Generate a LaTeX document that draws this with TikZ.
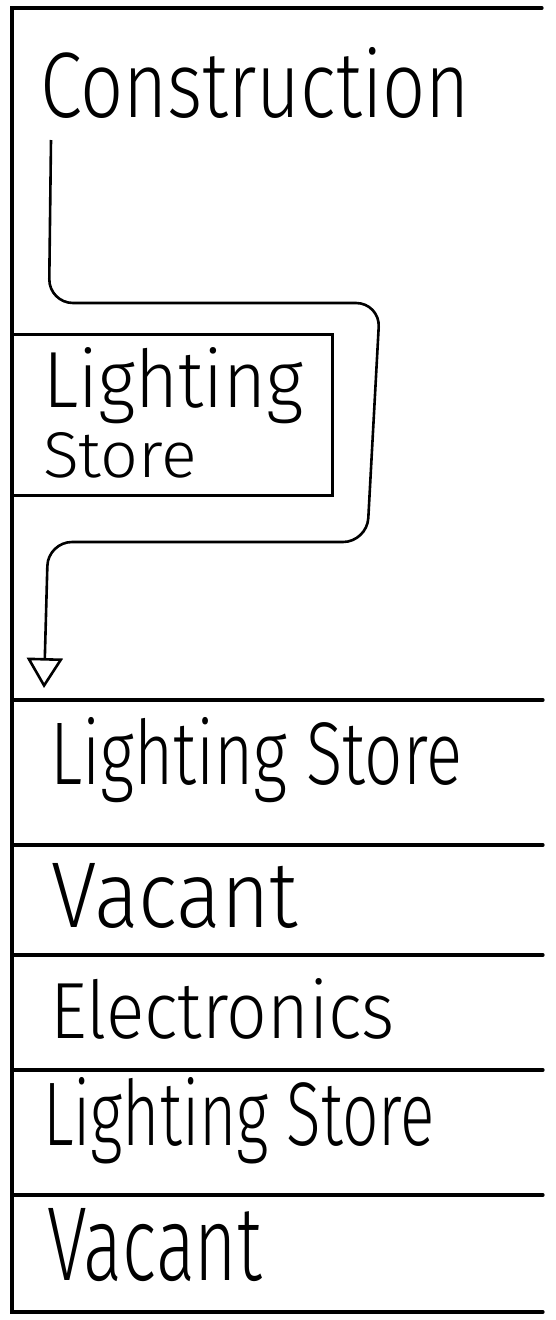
\documentclass[tikz,border=0pt]{standalone}
\usepackage{fontspec}
\usepackage{graphicx}
\newfontfamily\handfont{Fira Sans Light}
\usetikzlibrary{arrows.meta}
\tikzset{
  frameline/.style={line width=3.2pt, line cap=round},
  boxline/.style={draw, line width=3pt, inner sep=0pt, outer sep=0pt},
  handlabel/.style={anchor=base west, inner sep=0pt, outer sep=0pt, font=\handfont},
  flow/.style={line width=2.6pt, rounded corners=24pt, -{Triangle[open,width=36pt,length=30pt]}},
}
\newcommand{\hwtext}[3]{\resizebox{#1pt}{#2pt}{#3}}
\begin{document}
\begin{tikzpicture}[x=1pt,y=-1pt]
\useasboundingbox (0,0) rectangle (556,1320);
% outer frame
\draw[frameline] (542,8) -- (12,8) -- (12,1312) -- (543,1312);
% row separators
\foreach \yy in {700,845,955,1070,1195}
  \draw[frameline] (12,\yy) -- (543,\yy);
% lighting store box
\node[boxline, anchor=north west, minimum width=320pt, minimum height=161pt] (box) at (12,334) {};
% texts
\node[handlabel] (constr) at (40,117) {\hwtext{430}{70}{Construction}};
\node[handlabel] (boxa) at (43,407) {\hwtext{260}{60}{Lighting}};
\node[handlabel] (boxb) at (43,477) {\hwtext{154}{45}{Store}};
\node[handlabel] (r1) at (50,784) {\hwtext{412}{67}{Lighting Store}};
\node[handlabel] (r2) at (52,927) {\hwtext{246}{64}{Vacant}};
\node[handlabel] (r3) at (50,1038) {\hwtext{345}{60}{Electronics}};
\node[handlabel] (r4) at (43,1145) {\hwtext{392}{68}{Lighting Store}};
\node[handlabel] (r5) at (47,1280) {\hwtext{215}{72}{Vacant}};
% move arrow
\coordinate (astart) at (51,140);
\coordinate (aend) at (44,688);
\draw[flow] (astart) -- (49,303) -- (380,303) -- (367,542) -- (48,542) -- (aend);
\end{tikzpicture}
\end{document}
